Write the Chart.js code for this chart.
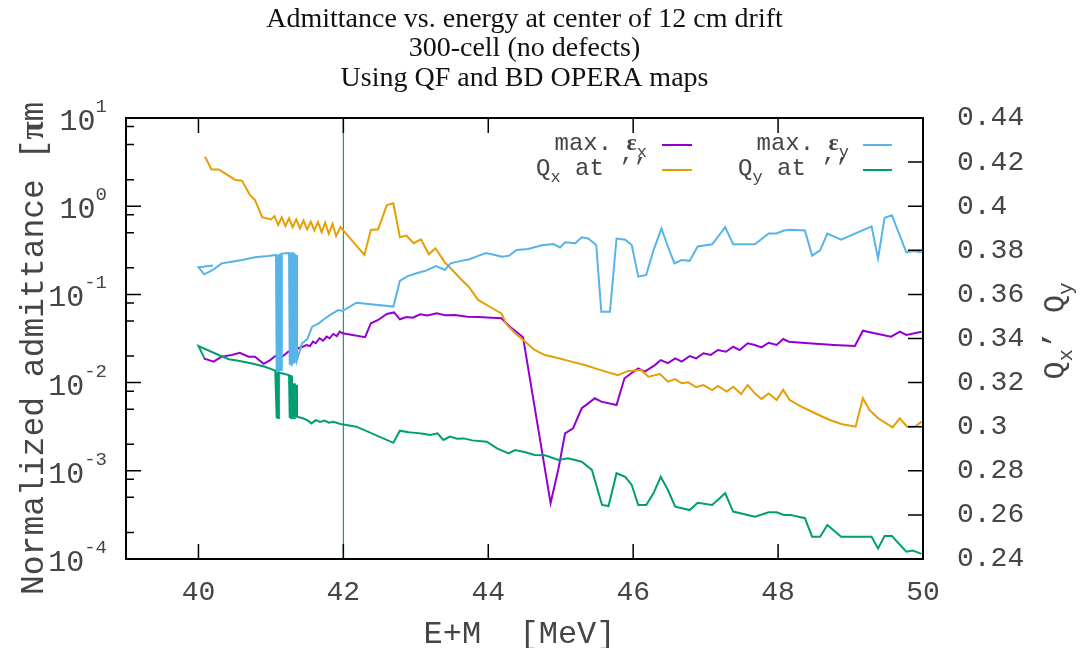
<!DOCTYPE html>
<html>
<head>
<meta charset="utf-8">
<title>Admittance vs. energy</title>
<script src="https://cdn.jsdelivr.net/npm/chart.js@4.4.1/dist/chart.umd.min.js"></script>
<style>
  html, body { margin: 0; padding: 0; background: #ffffff; }
  #wrap { width: 1091px; height: 648px; }
</style>
</head>
<body>
<div id="wrap"><canvas id="chart" width="1091" height="648"></canvas></div>
<script>
// ---- text ----
const titleLines = [
  'Admittance vs. energy at center of 12 cm drift',
  '300-cell (no defects)',
  'Using QF and BD OPERA maps'
];
const xAxisTitle = 'E+M  [MeV]';
const yAxisTitle = 'Normalized admittance [πm';
const y2AxisTitle = 'Q_x’ Q_y';

// ---- ticks ----
const xTicks = [40, 42, 44, 46, 48, 50];
const yExponents = [-4, -3, -2, -1, 0, 1];
const yMinorFactors = [2, 5, 8];
const y2Ticks = [0.24, 0.26, 0.28, 0.30, 0.32, 0.34, 0.36, 0.38, 0.40, 0.42, 0.44];
const markerEnergy = 42;

// ---- series: [E+M (MeV), value] ----
// maximum horizontal admittance (left, log axis)
const epsX = [
  [40.07,0.0188],[40.21,0.0173],[40.32,0.0197],[40.46,0.0206],[40.57,0.0218],[40.69,0.0197],
  [40.78,0.0197],[40.90,0.0163],[40.99,0.0180],[41.06,0.0200],[41.15,0.0195],[41.24,0.0224],
  [41.33,0.0235],[41.38,0.0245],[41.44,0.0255],[41.49,0.0267],[41.54,0.0260],[41.58,0.0291],
  [41.62,0.0279],[41.67,0.0318],[41.72,0.0299],[41.77,0.0332],[41.81,0.0318],[41.86,0.0356],
  [41.91,0.0337],[41.95,0.0378],[41.99,0.0362],[42.30,0.0327],[42.38,0.0471],[42.48,0.0513],
  [42.60,0.0600],[42.70,0.0625],[42.78,0.0522],[42.87,0.0555],[42.96,0.0545],[43.06,0.0594],
  [43.16,0.0575],[43.29,0.0610],[43.40,0.0580],[43.54,0.0583],[43.71,0.0558],[43.86,0.0555],
  [44.05,0.0545],[44.18,0.0536],[44.30,0.0430],[44.48,0.0326],[44.86,0.00043],[44.97,0.00107],
  [45.06,0.00266],[45.17,0.00303],[45.29,0.00512],[45.38,0.00582],[45.47,0.00664],[45.56,0.00608],
  [45.77,0.00557],[45.88,0.0112],[45.97,0.0127],[46.07,0.0145],[46.16,0.0133],[46.30,0.0158],
  [46.38,0.0180],[46.48,0.0166],[46.58,0.0188],[46.67,0.0173],[46.78,0.0200],[46.87,0.0188],
  [46.97,0.0215],[47.07,0.0206],[47.17,0.0234],[47.28,0.0224],[47.38,0.0255],[47.47,0.0234],
  [47.58,0.0279],[47.68,0.0267],[47.77,0.0251],[47.87,0.0283],[47.98,0.0267],[48.07,0.0312],
  [48.15,0.0291],[48.42,0.0279],[48.77,0.0267],[49.06,0.0260],[49.17,0.0388],[49.38,0.0356],
  [49.56,0.0332],[49.68,0.0378],[49.77,0.0347],[49.98,0.0378]
];

// horizontal tune at the maximum (right axis)
const qx = [
  [40.09,0.4225],[40.18,0.4167],[40.28,0.4167],[40.51,0.4119],[40.60,0.4116],[40.71,0.4051],
  [40.78,0.4028],[40.88,0.3950],[41.00,0.3940],[41.05,0.3955],[41.10,0.3915],[41.15,0.3950],
  [41.20,0.3910],[41.25,0.3945],[41.30,0.3905],[41.35,0.3940],[41.40,0.3900],[41.45,0.3935],
  [41.50,0.3895],[41.55,0.3930],[41.60,0.3890],[41.65,0.3928],[41.70,0.3882],[41.75,0.3925],
  [41.80,0.3875],[41.85,0.3920],[41.90,0.3865],[41.96,0.3905],[42.29,0.3779],[42.38,0.3892],
  [42.48,0.3895],[42.60,0.4005],[42.69,0.4013],[42.78,0.3859],[42.87,0.3867],[42.97,0.3832],
  [43.07,0.3850],[43.18,0.3782],[43.27,0.3809],[43.40,0.3745],[43.52,0.3705],[43.62,0.3670],
  [43.73,0.3635],[43.86,0.3575],[44.02,0.3544],[44.18,0.3514],[44.25,0.3465],[44.37,0.3424],
  [44.51,0.3385],[44.64,0.3348],[44.78,0.3325],[44.97,0.3310],[45.15,0.3295],[45.33,0.3280],
  [45.52,0.3260],[45.70,0.3242],[45.79,0.3234],[45.93,0.3253],[46.11,0.3257],[46.21,0.3227],
  [46.37,0.3239],[46.48,0.3204],[46.58,0.3216],[46.67,0.3197],[46.76,0.3201],[46.87,0.3179],
  [46.97,0.3189],[47.09,0.3166],[47.17,0.3185],[47.29,0.3159],[47.38,0.3181],[47.49,0.3148],
  [47.58,0.3189],[47.68,0.3151],[47.77,0.3126],[47.87,0.3151],[47.98,0.3121],[48.07,0.3167],
  [48.16,0.3121],[48.32,0.3091],[48.51,0.3061],[48.69,0.3034],[48.87,0.3012],[49.07,0.3000],
  [49.17,0.3129],[49.26,0.3076],[49.38,0.3038],[49.58,0.2997],[49.68,0.3038],[49.78,0.3000],
  [49.89,0.3000],[49.98,0.3023]
];

// maximum vertical admittance (left, log axis)
const epsY = [
  [40.20,0.213],[40.00,0.203],[40.08,0.169],[40.20,0.190],[40.32,0.225],[40.46,0.235],
  [40.60,0.245],[40.78,0.264],[40.96,0.272],[41.07,0.280],[41.08,0.0133],[41.09,0.282],
  [41.10,0.0136],[41.11,0.285],[41.12,0.0140],[41.13,0.290],[41.14,0.0139],[41.15,0.290],
  [41.20,0.292],[41.25,0.295],[41.26,0.0160],[41.27,0.296],[41.28,0.0159],[41.29,0.300],
  [41.30,0.0163],[41.31,0.300],[41.32,0.0170],[41.33,0.290],[41.34,0.0175],[41.35,0.280],
  [41.36,0.0180],[41.43,0.0279],[41.50,0.0310],[41.57,0.0430],[41.66,0.0470],[41.75,0.0536],
  [41.84,0.0600],[41.93,0.0665],[41.99,0.0649],[42.18,0.0805],[42.69,0.0727],[42.78,0.142],
  [42.88,0.160],[43.02,0.175],[43.14,0.186],[43.28,0.210],[43.40,0.189],[43.48,0.225],
  [43.62,0.240],[43.74,0.250],[43.85,0.272],[43.97,0.295],[44.09,0.280],[44.19,0.268],
  [44.29,0.275],[44.39,0.319],[44.55,0.327],[44.74,0.361],[44.90,0.372],[44.99,0.341],
  [45.06,0.389],[45.20,0.380],[45.29,0.444],[45.38,0.430],[45.49,0.363],[45.56,0.0637],
  [45.68,0.0637],[45.77,0.430],[45.89,0.417],[45.98,0.363],[46.07,0.159],[46.18,0.166],
  [46.28,0.316],[46.39,0.561],[46.48,0.347],[46.57,0.225],[46.67,0.245],[46.78,0.240],
  [46.89,0.350],[47.09,0.370],[47.27,0.580],[47.38,0.370],[47.59,0.370],[47.68,0.370],
  [47.87,0.490],[47.98,0.490],[48.08,0.530],[48.17,0.540],[48.37,0.530],[48.47,0.275],
  [48.58,0.316],[48.68,0.490],[48.87,0.417],[49.29,0.590],[49.38,0.256],[49.47,0.740],
  [49.57,0.790],[49.77,0.300],[49.86,0.310],[49.98,0.300]
];

// vertical tune at the maximum (right axis)
const qy = [
  [40.08,0.3312],[40.00,0.3366],[40.28,0.3325],[40.42,0.3306],[40.55,0.3299],[40.74,0.3287],
  [40.92,0.3272],[41.06,0.3254],[41.08,0.3038],[41.09,0.3248],[41.10,0.3040],[41.11,0.3245],
  [41.15,0.3242],[41.20,0.3238],[41.25,0.3234],[41.26,0.3040],[41.27,0.3234],[41.28,0.3038],
  [41.29,0.3232],[41.30,0.3045],[41.31,0.3197],[41.32,0.3040],[41.33,0.3197],[41.34,0.3045],
  [41.35,0.3190],[41.36,0.3045],[41.44,0.3038],[41.50,0.3030],[41.56,0.3015],[41.62,0.3030],
  [41.68,0.3022],[41.74,0.3028],[41.80,0.3018],[41.86,0.3022],[41.96,0.3012],[42.18,0.3000],
  [42.69,0.2927],[42.78,0.2982],[42.90,0.2975],[43.00,0.2972],[43.10,0.2968],[43.20,0.2962],
  [43.30,0.2970],[43.38,0.2940],[43.47,0.2955],[43.57,0.2945],[43.66,0.2947],[43.78,0.2938],
  [43.98,0.2932],[44.12,0.2902],[44.28,0.2879],[44.37,0.2894],[44.50,0.2885],[44.64,0.2872],
  [44.78,0.2870],[44.97,0.2849],[45.10,0.2857],[45.29,0.2841],[45.43,0.2804],[45.57,0.2645],
  [45.66,0.2640],[45.77,0.2789],[45.89,0.2773],[45.98,0.2736],[46.07,0.2645],[46.18,0.2645],
  [46.28,0.2698],[46.38,0.2773],[46.48,0.2713],[46.58,0.2637],[46.78,0.2622],[46.89,0.2655],
  [47.09,0.2645],[47.27,0.2698],[47.38,0.2615],[47.68,0.2592],[47.87,0.2612],[47.98,0.2612],
  [48.08,0.2600],[48.17,0.2600],[48.37,0.2585],[48.47,0.2501],[48.58,0.2501],[48.68,0.2554],
  [48.87,0.2501],[49.29,0.2501],[49.38,0.2448],[49.47,0.2504],[49.57,0.2504],[49.77,0.2433],
  [49.86,0.2438],[49.98,0.2423]
];

const series = [
  { label: 'max. ε_x', data: epsX, axis: 'y',  color: '#9400d3', order: 4 },
  { label: 'Q_x at ’’', data: qx,  axis: 'y2', color: '#e69f00', order: 3 },
  { label: 'max. ε_y', data: epsY, axis: 'y',  color: '#56b4e9', order: 2 },
  { label: 'Q_y at ’’', data: qy,  axis: 'y2', color: '#009e73', order: 1 }
];

// ---- styling ----
const MONO = "'Liberation Mono', 'DejaVu Sans Mono', monospace";
const SERIF = "'Liberation Serif', 'DejaVu Serif', serif";
const TEXT = '#454545';

// text with "_c" subscripts and bold Greek letters
function richSegments(text, size) {
  const segs = [];
  for (let i = 0; i < text.length; i++) {
    const ch = text[i];
    if (ch === '_' && i + 1 < text.length) {
      segs.push({ t: text[++i], font: Math.round(size * 0.7) + 'px ' + MONO, dy: size * 0.28 });
    } else if (ch === 'ε' || ch === 'π') {
      segs.push({ t: ch, font: 'bold ' + size + 'px ' + SERIF, dy: 0 });
    } else {
      const last = segs[segs.length - 1];
      if (last && last.plain) last.t += ch;
      else segs.push({ t: ch, font: size + 'px ' + MONO, dy: 0, plain: true });
    }
  }
  return segs;
}
function drawRich(ctx, text, x, y, align, size) {
  const segs = richSegments(text, size);
  let w = 0;
  for (const s of segs) { ctx.font = s.font; s.w = ctx.measureText(s.t).width; w += s.w; }
  let cx = align === 'right' ? x - w : (align === 'center' ? x - w / 2 : x);
  ctx.textAlign = 'left';
  ctx.textBaseline = 'alphabetic';
  for (const s of segs) { ctx.font = s.font; ctx.fillText(s.t, cx, y + s.dy); cx += s.w; }
}

// frame and inward tick marks
const frameTicks = {
  id: 'frameTicks',
  afterDatasetsDraw(chart) {
    const { ctx, chartArea: a, scales: { x, y, y2 } } = chart;
    ctx.save();
    ctx.strokeStyle = '#000';
    ctx.lineWidth = 1.5;
    ctx.beginPath();
    for (const v of xTicks) {
      const px = x.getPixelForValue(v);
      ctx.moveTo(px, a.bottom); ctx.lineTo(px, a.bottom - 15);
      ctx.moveTo(px, a.top);    ctx.lineTo(px, a.top + 15);
    }
    for (const e of yExponents) {
      const py = y.getPixelForValue(Math.pow(10, e));
      ctx.moveTo(a.left, py); ctx.lineTo(a.left + 15, py);
      if (e < yExponents[yExponents.length - 1]) {
        for (const f of yMinorFactors) {
          const pm = y.getPixelForValue(f * Math.pow(10, e));
          ctx.moveTo(a.left, pm); ctx.lineTo(a.left + 8, pm);
        }
      }
    }
    for (const v of y2Ticks) {
      const py = y2.getPixelForValue(v);
      ctx.moveTo(a.right, py); ctx.lineTo(a.right - 15, py);
    }
    ctx.stroke();
    ctx.lineWidth = 2;
    ctx.strokeRect(a.left, a.top, a.right - a.left, a.bottom - a.top);
    ctx.restore();
  }
};

// log tick labels, axis titles and key
const labelsAndKey = {
  id: 'labelsAndKey',
  afterDraw(chart) {
    const { ctx, chartArea: a, scales: { x, y } } = chart;
    ctx.save();
    ctx.fillStyle = TEXT;

    // 10^n labels on the left axis
    const labelRight = a.left - 19;
    for (const e of yExponents) {
      const py = y.getPixelForValue(Math.pow(10, e));
      const ex = String(e);
      ctx.textAlign = 'right';
      ctx.textBaseline = 'alphabetic';
      ctx.font = '19px ' + MONO;
      const ew = ctx.measureText(ex).width;
      ctx.fillText(ex, labelRight, py - 6);
      ctx.font = '30px ' + MONO;
      ctx.fillText('10', labelRight - ew, py + 12);
    }

    // x axis title
    ctx.font = '32px ' + MONO;
    ctx.textAlign = 'center';
    ctx.textBaseline = 'alphabetic';
    ctx.fillText(xAxisTitle, (x.left + x.right) / 2 - 5, 643);

    // left axis title
    ctx.save();
    ctx.translate(43, 595);
    ctx.rotate(-Math.PI / 2);
    drawRich(ctx, yAxisTitle, 0, 0, 'left', 33);
    ctx.restore();

    // right axis title
    ctx.save();
    ctx.translate(1064, 331);
    ctx.rotate(-Math.PI / 2);
    drawRich(ctx, y2AxisTitle, 0, 0, 'center', 30);
    ctx.restore();

    // key: two columns, text right-justified before the sample line
    const colText = [647, 849];
    const colLine = [[662, 692], [863, 892]];
    const rowY = [145, 170];
    series.forEach((s, i) => {
      const col = Math.floor(i / 2), row = i % 2;
      ctx.fillStyle = TEXT;
      drawRich(ctx, s.label, colText[col], rowY[row] + 5, 'right', 24);
      ctx.strokeStyle = s.color;
      ctx.lineWidth = 2;
      ctx.beginPath();
      ctx.moveTo(colLine[col][0], rowY[row]);
      ctx.lineTo(colLine[col][1], rowY[row]);
      ctx.stroke();
    });
    ctx.restore();
  }
};

const toPoints = arr => arr.map(p => ({ x: p[0], y: p[1] }));

const datasets = series.map(s => ({
  label: s.label,
  data: toPoints(s.data),
  yAxisID: s.axis,
  borderColor: s.color,
  backgroundColor: s.color,
  borderWidth: 2,
  pointRadius: 0,
  tension: 0,
  fill: false,
  order: s.order
}));
datasets.push({
  label: 'marker',
  data: [{ x: markerEnergy, y: 1e-4 }, { x: markerEnergy, y: 10 }],
  yAxisID: 'y',
  borderColor: '#1f958f',
  borderWidth: 1.2,
  pointRadius: 0,
  fill: false,
  order: 5
});

new Chart(document.getElementById('chart'), {
  type: 'line',
  data: { datasets },
  plugins: [frameTicks, labelsAndKey],
  options: {
    responsive: false,
    animation: false,
    devicePixelRatio: 1,
    layout: { padding: 0 },
    plugins: {
      legend: { display: false },
      tooltip: { enabled: false },
      title: {
        display: true,
        fullSize: false,
        text: titleLines,
        color: '#111111',
        font: { family: SERIF, size: 28, weight: 'normal', lineHeight: 1.05 },
        padding: { top: 5, bottom: 24.8 }
      }
    },
    scales: {
      x: {
        type: 'linear',
        position: 'bottom',
        min: 39,
        max: 50,
        afterBuildTicks: s => { s.ticks = xTicks.map(v => ({ value: v })); },
        afterFit: s => { s.height = 89; },
        grid: { display: false, drawTicks: false },
        border: { display: false },
        ticks: {
          autoSkip: false,
          maxRotation: 0,
          padding: 17,
          color: TEXT,
          font: { family: MONO, size: 28 }
        }
      },
      y: {
        type: 'logarithmic',
        position: 'left',
        min: 1e-4,
        max: 10,
        afterBuildTicks: s => { s.ticks = yExponents.map(e => ({ value: Math.pow(10, e), major: true })); },
        afterFit: s => { s.width = 126; },
        grid: { display: false, drawTicks: false },
        border: { display: false },
        ticks: { display: false }
      },
      y2: {
        type: 'linear',
        position: 'right',
        min: 0.24,
        max: 0.44,
        afterBuildTicks: s => { s.ticks = y2Ticks.map(v => ({ value: v })); },
        afterFit: s => { s.width = 168; },
        grid: { display: false, drawTicks: false },
        border: { display: false },
        ticks: {
          padding: 34,
          color: TEXT,
          font: { family: MONO, size: 28 },
          callback: v => String(+v.toFixed(2))
        }
      }
    }
  }
});
</script>
</body>
</html>
